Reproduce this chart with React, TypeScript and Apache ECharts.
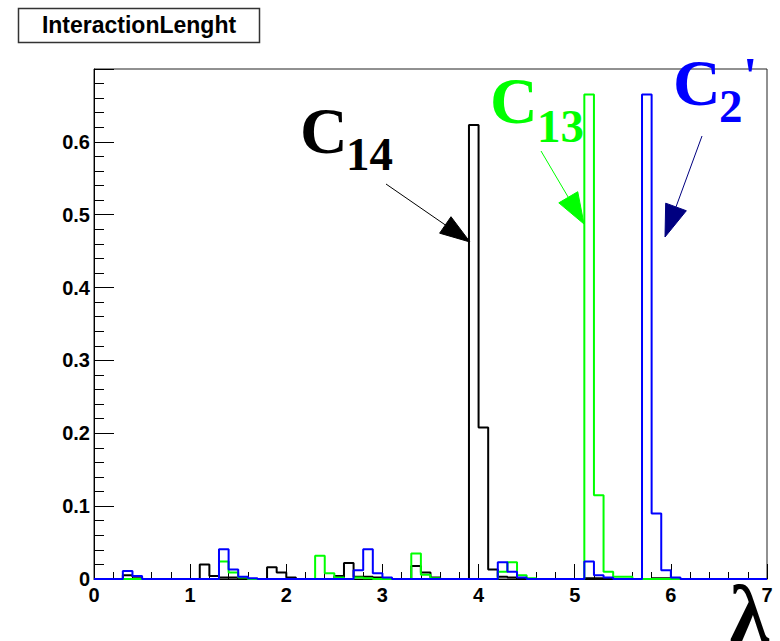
import { useEffect, useRef } from "react";
import * as echarts from "echarts";

// Histogram: 70 bins of width 0.1 from 0 to 7
const binWidth = 0.1;
const xMin = 0;
const xMax = 7;
const yMax = 0.7;
const xTickLabels = ["0", "1", "2", "3", "4", "5", "6", "7"];

// C14 (black)
const c14Values = [
  0, 0, 0, 0.005, 0.003, 0, 0, 0, 0, 0,
  0, 0.02, 0.004, 0.002, 0.002, 0, 0, 0, 0.016, 0.009,
  0.002, 0, 0, 0, 0, 0.004, 0.022, 0.003, 0.003, 0.002,
  0, 0, 0, 0.018, 0.009, 0.002, 0, 0, 0, 0.623,
  0.208, 0.013, 0.003, 0.002, 0, 0, 0, 0, 0, 0,
  0, 0.001, 0.001, 0.001, 0, 0, 0, 0, 0.001, 0.001,
  0.001, 0, 0, 0, 0, 0, 0, 0, 0, 0,
];

// C13 (green)
const c13Values = [
  0, 0, 0, 0, 0, 0, 0, 0, 0, 0,
  0, 0, 0, 0.024, 0.009, 0.002, 0, 0, 0, 0,
  0, 0, 0, 0.032, 0.008, 0.002, 0, 0.002, 0.001, 0,
  0, 0, 0, 0.035, 0.006, 0.001, 0, 0, 0, 0,
  0, 0, 0.01, 0.023, 0.005, 0.001, 0, 0, 0, 0,
  0, 0.665, 0.115, 0.01, 0.003, 0.003, 0, 0, 0, 0,
  0, 0, 0, 0, 0, 0, 0, 0, 0, 0,
];

// C2' (blue)
const c2Values = [
  0, 0, 0, 0.011, 0.004, 0, 0, 0, 0, 0,
  0, 0, 0, 0.041, 0.013, 0.003, 0.001, 0, 0, 0,
  0, 0, 0, 0, 0, 0, 0, 0.012, 0.041, 0.008,
  0.002, 0, 0, 0, 0, 0, 0, 0, 0, 0,
  0, 0, 0.023, 0.01, 0.002, 0, 0, 0, 0, 0,
  0, 0.024, 0.005, 0.002, 0, 0, 0, 0.665, 0.09, 0.012,
  0.002, 0, 0, 0, 0, 0, 0, 0, 0, 0,
];

function stepData(values: number[]) {
  const pts: [number, number][] = values.map((v, i) => [
    +(xMin + i * binWidth).toFixed(2),
    v,
  ]);
  pts.push([xMax, values[values.length - 1]]);
  return pts;
}

function arrow(x1: number, y1: number, x2: number, y2: number, color: string, L: number, hw: number) {
  const dx = x2 - x1;
  const dy = y2 - y1;
  const len = Math.sqrt(dx * dx + dy * dy);
  const ux = dx / len;
  const uy = dy / len;
  const bx = x2 - L * ux;
  const by = y2 - L * uy;
  const nx = -uy;
  const ny = ux;
  return [
    {
      type: "line",
      shape: { x1, y1, x2: bx, y2: by },
      style: { stroke: color, lineWidth: 1 },
      z: 100,
    },
    {
      type: "polygon",
      shape: {
        points: [
          [x2, y2],
          [bx + hw * nx, by + hw * ny],
          [bx - hw * nx, by - hw * ny],
        ],
      },
      style: { fill: color, stroke: color, lineWidth: 1 },
      z: 100,
    },
  ];
}

const serif = "'Liberation Serif', 'Times New Roman', serif";
const sans = "'Liberation Sans', Arial, Helvetica, sans-serif";

function label(text: string, x: number, y: number, size: number, color: string) {
  return {
    type: "text",
    x,
    y,
    z: 100,
    style: {
      text,
      fill: color,
      font: `bold ${size}px ${serif}`,
      textAlign: "left",
      textVerticalAlign: "middle",
    },
  };
}

export default function App() {
  const ref = useRef<HTMLDivElement>(null);
  useEffect(() => {
    document.body.style.margin = "0";
    if (!ref.current) return;
    const chart = echarts.init(ref.current, undefined, { renderer: "svg" });
    const tickLabelStyle = {
      color: "#000",
      fontFamily: sans,
      fontWeight: "bold" as const,
      fontSize: 20,
    };
    chart.setOption({
      animation: false,
      backgroundColor: "#fff",
      grid: {
        left: 94,
        right: 13,
        top: 69,
        bottom: 62,
        show: true,
        borderColor: "#222",
        borderWidth: 1,
        backgroundColor: "transparent",
      },
      xAxis: {
        type: "value",
        min: xMin,
        max: xMax,
        interval: 1,
        axisLine: { show: true, lineStyle: { color: "#000", width: 1 } },
        axisTick: { show: true, inside: true, length: 15, lineStyle: { color: "#000" } },
        minorTick: { show: true, splitNumber: 5, length: 7, lineStyle: { color: "#000" } },
        splitLine: { show: false },
        minorSplitLine: { show: false },
        axisLabel: {
          ...tickLabelStyle,
          margin: 6,
          formatter: (v: number) => xTickLabels[Math.round(v)] ?? "",
        },
      },
      yAxis: {
        type: "value",
        min: 0,
        max: yMax,
        interval: 0.1,
        axisLine: { show: true, lineStyle: { color: "#000", width: 1 } },
        axisTick: { show: true, inside: true, length: 20, lineStyle: { color: "#000" } },
        minorTick: { show: true, splitNumber: 5, length: 10, lineStyle: { color: "#000" } },
        splitLine: { show: false },
        minorSplitLine: { show: false },
        axisLabel: { ...tickLabelStyle, margin: 4, showMaxLabel: false },
      },
      series: [
        {
          name: "C14",
          type: "line",
          step: "end",
          data: stepData(c14Values),
          showSymbol: false,
          lineStyle: { color: "#000000", width: 2 },
          z: 3,
        },
        {
          name: "C13",
          type: "line",
          step: "end",
          data: stepData(c13Values),
          showSymbol: false,
          lineStyle: { color: "#00ff00", width: 2 },
          z: 4,
        },
        {
          name: "C2'",
          type: "line",
          step: "end",
          data: stepData(c2Values),
          showSymbol: false,
          lineStyle: { color: "#0000ff", width: 2 },
          z: 5,
        },
      ],
      graphic: [
        {
          type: "rect",
          shape: { x: 18.5, y: 8.5, width: 241, height: 34 },
          style: { fill: "#fff", stroke: "#333", lineWidth: 1.5 },
        },
        {
          type: "text",
          x: 139,
          y: 25,
          style: {
            text: "InteractionLenght",
            fill: "#000",
            font: `bold 23px ${sans}`,
            textAlign: "center",
            textVerticalAlign: "middle",
          },
        },
        label("C", 300, 130, 66, "#000"),
        label("14", 346, 154, 47, "#000"),
        label("C", 490, 100, 66, "#00ff00"),
        label("13", 537, 126, 47, "#00ff00"),
        label("C", 673, 82, 66, "#0000ff"),
        label("2", 719, 106, 47, "#0000ff"),
        label("'", 743, 76, 52, "#0000ff"),
        ...arrow(386, 184, 470, 242, "#000", 30, 10),
        ...arrow(541, 151, 584, 224, "#00ff00", 31, 11),
        ...arrow(702, 136, 665, 237, "#000080", 32, 11),
        {
          type: "text",
          x: 769,
          y: 574,
          z: 100,
          style: {
            text: "λ",
            fill: "#000",
            font: `bold 80px ${serif}`,
            textAlign: "right",
            textVerticalAlign: "top",
          },
        },
      ],
    });
    return () => chart.dispose();
  }, []);
  return <div ref={ref} style={{ width: 780, height: 641 }} />;
}
